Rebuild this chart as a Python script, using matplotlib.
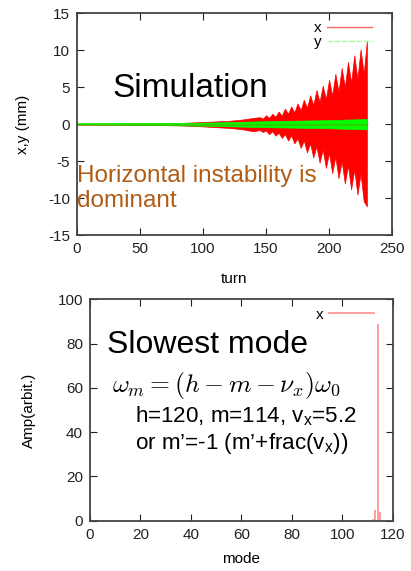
import matplotlib.pyplot as plt

plt.rcParams['font.family'] = ['Liberation Sans', 'DejaVu Sans']
plt.rcParams['mathtext.fontset'] = 'custom'
plt.rcParams['mathtext.rm'] = 'Liberation Sans'
plt.rcParams['axes.unicode_minus'] = False

# top panel: envelope of the x and y oscillations
turn_x = [0, 50, 80, 100, 120, 130, 140, 145, 147.5,
          150, 152.5, 155, 157.5, 160, 162.5, 165, 167.5, 170, 172.5,
          175, 177.5, 180, 182.5, 185, 187.5, 190, 192.5, 195, 197.5,
          200, 202.5, 205, 207.5, 210, 212.5, 215, 217.5, 220, 222.5,
          225, 227.5, 230]
x_upper = [0.05, 0.08, 0.15, 0.3, 0.45, 0.6, 0.85, 0.95, 0.75,
           1.2, 0.85, 1.4, 1.0, 1.7, 1.15, 2.1, 1.4, 2.4, 1.6,
           2.8, 1.9, 3.3, 2.2, 3.9, 2.6, 4.6, 3.0, 5.2, 3.4,
           6.0, 3.9, 6.8, 4.4, 7.6, 5.0, 8.4, 5.6, 9.3, 6.1,
           10.1, 6.8, 11.3]
x_lower = [-0.05, -0.08, -0.15, -0.3, -0.5, -0.65, -0.95, -0.8, -1.05,
           -0.85, -1.35, -0.95, -1.55, -1.15, -1.85, -1.35, -2.2, -1.5, -2.6,
           -1.9, -3.2, -2.2, -3.8, -2.6, -4.5, -3.0, -5.2, -3.4, -5.9,
           -3.9, -6.6, -4.4, -7.3, -5.0, -8.0, -5.6, -8.8, -6.1, -9.5,
           -6.7, -10.4, -11.1]
turn_y = [0, 50, 100, 150, 200, 230]
y_amp = [0.05, 0.1, 0.2, 0.4, 0.55, 0.7]

# bottom panel: mode spectrum
modes = [112, 113, 114, 115]
amps = [1, 5, 89, 4]

fig = plt.figure(figsize=(4.11, 5.71), dpi=100)

ax1 = fig.add_axes([0.187, 0.588, 0.767, 0.389])
ax1.fill_between(turn_x, x_lower, x_upper, color='#ff0000', lw=0.5)
ax1.plot([0, 230], [0, 0], color='#ff0000', lw=1)
ax1.fill_between(turn_y, [-v for v in y_amp], y_amp, color='#00ff00', lw=0.5)
ax1.plot([0, 230], [0, 0], color='#00ff00', lw=1.2)
ax1.plot([], [], color='#ff6666', lw=1, label='x')
ax1.plot([], [], color='#99ff99', lw=1, ls='--', label='y')
ax1.set_xlim(0, 250)
ax1.set_ylim(-15, 15)
ax1.set_xticks(range(0, 251, 50))
ax1.set_yticks(range(-15, 16, 5))
ax1.set_xlabel('turn', fontsize=11)
ax1.set_ylabel('x,y (mm)', fontsize=11)
ax1.xaxis.set_label_coords(0.5, -0.165)
ax1.yaxis.set_label_coords(-0.15, 0.5)
ax1.legend(loc='upper right', bbox_to_anchor=(0.937, 0.965), frameon=False,
           fontsize=11, handlelength=2.95, markerfirst=False, borderaxespad=0,
           borderpad=0, labelspacing=0, handletextpad=0.35)
ax1.text(28.6, 3.7, 'Simulation', fontsize=24, va='baseline')
ax1.text(0, -7.75, 'Horizontal instability is', fontsize=17.5, color='#b05c14',
         va='baseline')
ax1.text(0, -11.2, 'dominant', fontsize=17.5, color='#b05c14', va='baseline')

ax2 = fig.add_axes([0.219, 0.088, 0.737, 0.388])
ax2.vlines(modes, 0, amps, color='#ff8c8c', lw=1.2)
ax2.plot([], [], color='#ff8c8c', lw=1.2, label='x')
ax2.set_xlim(0, 120)
ax2.set_ylim(0, 100)
ax2.set_xticks(range(0, 121, 20))
ax2.set_yticks(range(0, 101, 20))
ax2.set_xlabel('mode', fontsize=11)
ax2.set_ylabel('Amp(arbit.)', fontsize=11)
ax2.xaxis.set_label_coords(0.5, -0.14)
ax2.yaxis.set_label_coords(-0.18, 0.5)
ax2.legend(loc='upper right', bbox_to_anchor=(0.937, 0.962), frameon=False,
           fontsize=11, handlelength=2.95, markerfirst=False, borderaxespad=0,
           borderpad=0, handletextpad=0.35)
ax2.text(6.7, 75.6, 'Slowest mode', fontsize=23, va='baseline')
ax2.text(8.7, 57.9, r'$\omega_m = (h - m - \nu_x)\omega_0$', fontsize=18.5,
         math_fontfamily='cm', va='baseline')
ax2.text(17.8, 44.3, 'h=120, m=114, v$_\\mathrm{x}$=5.2', fontsize=16.1,
         va='baseline')
ax2.text(17.8, 32.6, 'or m\u2019=-1 (m\u2019+frac(v$_\\mathrm{x}$))', fontsize=16.1,
         va='baseline')

for ax in (ax1, ax2):
    ax.tick_params(direction='in', top=True, right=True, length=5, width=0.8,
                   labelsize=11, colors='#222222', pad=5)
    for s in ax.spines.values():
        s.set_color('#444444')
        s.set_linewidth(1.3)

fig.savefig('out.png', dpi=100)
